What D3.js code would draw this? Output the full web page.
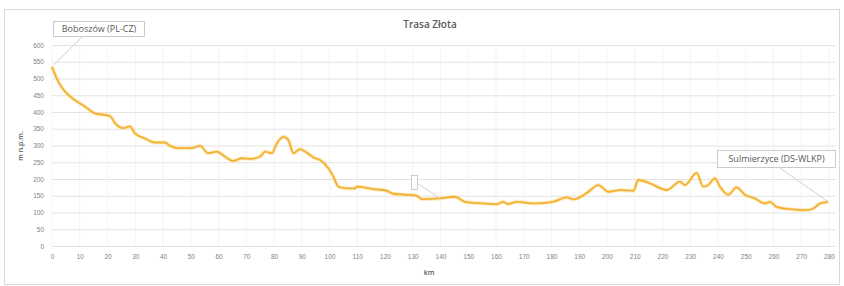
<!DOCTYPE html>
<html>
<head>
<meta charset="utf-8">
<script src="https://cdn.jsdelivr.net/npm/d3@7"></script>
<style>
  body { margin: 0; background: #fff; }
  svg { display: block; font-family: "Open Sans", "Liberation Sans", sans-serif; }
</style>
</head>
<body>
<div id="chart"></div>
<script>
// Route profile (km, m n.p.m.)
const km = [0, 2.3, 4.7, 8.3, 11.9, 15.5, 19.1, 20.9, 22.7, 25.7, 28.1, 29.9, 33.5, 37.1, 40.7,
  42.5, 45.5, 50.3, 53.3, 56.3, 59.4, 62.3, 65.3, 68.4, 71.5, 75, 76.8, 79.2, 81, 83.4,
  85.2, 87, 89.4, 91.2, 94.8, 96.6, 99.6, 101.4, 103.2, 106.2, 109.2, 109.8, 115.8, 120.6, 123,
  127.8, 131.4, 133.2, 139.8, 145.2, 148.8, 155.4, 160.3, 162.6, 164.4, 167.5, 173.4, 180.6, 185.5, 187.9,
  192.7, 196.9, 200.5, 204.7, 209.5, 211.3, 215.5, 221.5, 226.3, 228.1, 232.3, 234.7, 236.5, 238.9, 240.7,
  243.7, 246.7, 249.7, 253.3, 256.9, 258.7, 261.1, 266, 272, 274.3, 276.8, 279.7];
const elevation = [535, 490, 461, 435, 416, 396, 391, 388, 367, 352, 357, 336, 321, 309, 309,
  299, 292, 292, 299, 277, 282, 267, 254, 262, 260, 267, 282, 277, 306, 326,
  316, 277, 289, 282, 262, 257, 232, 207, 177, 172, 172, 177, 170, 165, 156,
  153, 150, 140, 142, 147, 132, 127, 125, 132, 125, 132, 127, 132, 145, 139,
  158, 182, 162, 167, 165, 197, 187, 167, 192, 182, 218, 177, 182, 202, 177,
  153, 175, 153, 142, 127, 132, 117, 110, 107, 112, 127, 132];
const xTicks = d3.range(0, 281, 10);
const yTicks = d3.range(0, 601, 50);
const title = 'Trasa Złota';
const startLabel = 'Boboszów (PL-CZ)';
const endLabel = 'Sulmierzyce (DS-WLKP)';

const W = 844, H = 286;
const margin = {top: 45, right: 15, bottom: 40, left: 52};

const svg = d3.select('#chart').append('svg')
  .attr('width', W)
  .attr('height', H);

// chart frame
svg.append('rect')
  .attr('x', 4.5).attr('y', 9.5)
  .attr('width', 835).attr('height', 275)
  .attr('fill', '#fff')
  .attr('stroke', '#d9d9d9');

const x = d3.scaleLinear().domain([0, 280]).range([margin.left, W - margin.right]);
const y = d3.scaleLinear().domain([0, 600]).range([H - margin.bottom, margin.top]);

// vertical gridlines (very faint)
svg.append('g')
  .selectAll('line')
  .data(xTicks)
  .enter()
  .append('line')
    .attr('x1', d => x(d)).attr('x2', d => x(d))
    .attr('y1', y(600)).attr('y2', y(0))
    .attr('stroke', '#f4f4f4');

// horizontal gridlines
svg.append('g')
  .attr('transform', 'translate(' + margin.left + ',0)')
  .call(d3.axisLeft(y).tickValues(yTicks).tickSize(-(W - margin.left - margin.right + 6)).tickFormat(''))
  .call(g => g.select('.domain').remove())
  .call(g => g.selectAll('line').attr('stroke', '#e3e3e3'));

// y axis labels
svg.append('g')
  .attr('transform', 'translate(' + margin.left + ',0)')
  .call(d3.axisLeft(y).tickValues(yTicks).tickSize(0).tickPadding(8).tickFormat(d3.format('d')))
  .call(g => g.select('.domain').remove())
  .call(g => g.selectAll('text').attr('fill', '#7f7f7f').style('font-size', '6.5px'));

// x axis labels
svg.append('g')
  .attr('transform', 'translate(0,' + y(0) + ')')
  .call(d3.axisBottom(x).tickValues(xTicks).tickSize(0).tickPadding(8).tickFormat(d3.format('d')))
  .call(g => g.select('.domain').remove())
  .call(g => g.selectAll('text').attr('fill', '#7f7f7f').style('font-size', '6.5px'));

// titles
svg.append('text')
  .attr('x', 430).attr('y', 28)
  .attr('text-anchor', 'middle')
  .attr('fill', '#595959')
  .style('font-size', '10px')
  .style('font-weight', '600')
  .text(title);

svg.append('text')
  .attr('x', 429).attr('y', 275)
  .attr('text-anchor', 'middle')
  .attr('fill', '#595959')
  .style('font-size', '7px')
  .style('font-weight', '600')
  .text('km');

svg.append('text')
  .attr('transform', 'translate(23,' + 146 + ') rotate(-90)')
  .attr('text-anchor', 'middle')
  .attr('fill', '#595959')
  .style('font-size', '7px')
  .style('font-weight', '600')
  .text('m n.p.m.');

// profile line
const profile = km.map((d, i) => [d, elevation[i]]);
const line = d3.line()
  .x(d => x(d[0]))
  .y(d => y(d[1]))
  .curve(d3.curveMonotoneX);

svg.append('path')
  .datum(profile)
  .attr('fill', 'none')
  .attr('stroke', '#ffd27a')
  .attr('stroke-opacity', 0.45)
  .attr('stroke-width', 4)
  .attr('stroke-linejoin', 'round')
  .attr('d', line);

svg.append('path')
  .datum(profile)
  .attr('fill', 'none')
  .attr('stroke', '#f1b232')
  .attr('stroke-width', 1.8)
  .attr('stroke-linejoin', 'round')
  .attr('d', line);

// data label callouts
function callout(bx, by, bw, bh, text, px, py, lx, ly) {
  svg.append('line')
    .attr('x1', lx).attr('y1', ly)
    .attr('x2', px).attr('y2', py)
    .attr('stroke', '#d0d0d0')
    .attr('stroke-width', 1);
  svg.append('rect')
    .attr('x', bx).attr('y', by)
    .attr('width', bw).attr('height', bh)
    .attr('fill', '#fff')
    .attr('stroke', '#bfbfbf')
    .attr('stroke-width', 0.8);
  if (text) {
    svg.append('text')
      .attr('x', bx + bw / 2).attr('y', by + bh / 2 + 3.2)
      .attr('text-anchor', 'middle')
      .attr('fill', '#595959')
      .style('font-size', '9px')
      .text(text);
  }
}

const first = profile[0];
const last = profile[profile.length - 1];
callout(53.5, 21.5, 91, 15, startLabel, x(first[0]) + 2, y(first[1]) - 2, 82, 37);
callout(717.5, 150.5, 118, 17, endLabel, x(last[0]), y(last[1]), 780, 168);
callout(411.5, 175.5, 6, 14, null, x(139.8), y(142), 417, 183);
</script>
</body>
</html>
